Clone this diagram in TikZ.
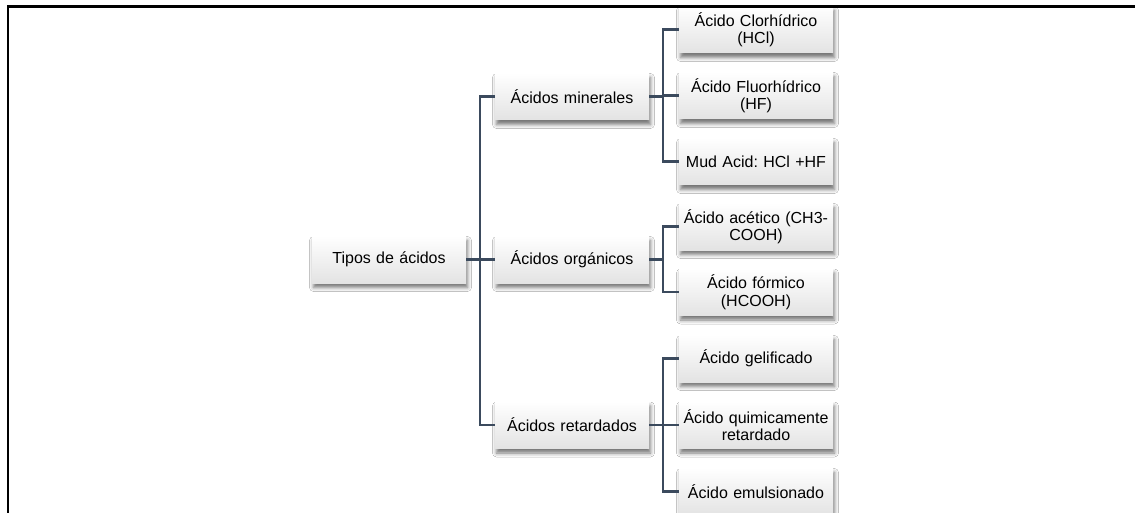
\documentclass[tikz,border=0pt]{standalone}
\usepackage{fontspec}
\setmainfont{Liberation Sans}
\frenchspacing
\usetikzlibrary{shadows.blur}
\definecolor{linkcol}{HTML}{3B4A5D}
\definecolor{boxbot}{HTML}{E3E3E3}
\begin{document}
\begin{tikzpicture}[x=1pt,y=-1pt,
  box/.style={minimum width=154pt, minimum height=47pt, inner xsep=0pt,
    inner ysep=2pt, align=center, text width=154pt,
    font=\fontsize{16}{17.5}\selectfont,
    top color=white, bottom color=boxbot, draw=none,
    blur shadow={shadow xshift=1.5pt, shadow yshift=-4.5pt,
      shadow blur radius=4pt, shadow opacity=55}},
  link/.style={draw=linkcol, line width=2.4pt}]
\useasboundingbox (0,0) rectangle (1135,513);
\fill[white] (0,0) rectangle (1135,513);

% root and first level
\node[box] (root) at (389,259.5) {Tipos de ácidos};
\node[box] (min) at (572,96.5) {Ácidos minerales};
\node[box] (org) at (572,259.5) {Ácidos orgánicos};
\node[box] (ret) at (572,425) {Ácidos retardados};

% leaves
\node[box] (hcl) at (756,29.5) {Ácido Clorhídrico\\(HCl)};
\node[box] (hf)  at (756,95.5) {Ácido Fluorhídrico\\(HF)};
\node[box] (mud) at (756,161.5) {Mud Acid: HCl +HF};
\node[box] (ace) at (756,226.5) {Ácido acético (CH3-\\COOH)};
\node[box] (for) at (756,292) {Ácido fórmico\\(HCOOH)};
\node[box] (gel) at (756,358.5) {Ácido gelificado};
\node[box] (qui) at (756,425) {Ácido quimicamente\\retardado};
\node[box] (emu) at (756,491.5) {Ácido emulsionado};

% junction points
\coordinate (j0) at (480,259.5);
\coordinate (j1) at (663,96.5);
\coordinate (j2) at (663,259.5);
\coordinate (j3) at (663,425);

% connectors
\draw[link] (root) -- (j0);
\draw[link] (j0) |- (min);
\draw[link] (j0) -- (org);
\draw[link] (j0) |- (ret);

\draw[link] (min) -- (j1);
\draw[link] (j1) |- (hcl);
\draw[link] (j1) |- (hf);
\draw[link] (j1) |- (mud);

\draw[link] (org) -- (j2);
\draw[link] (j2) |- (ace);
\draw[link] (j2) |- (for);

\draw[link] (ret) -- (j3);
\draw[link] (j3) |- (gel);
\draw[link] (j3) |- (qui);
\draw[link] (j3) |- (emu);

% frame
\draw[line width=2.2pt, line cap=rect] (8,520) -- (8,6.5) -- (1140,6.5);
\end{tikzpicture}
\end{document}
